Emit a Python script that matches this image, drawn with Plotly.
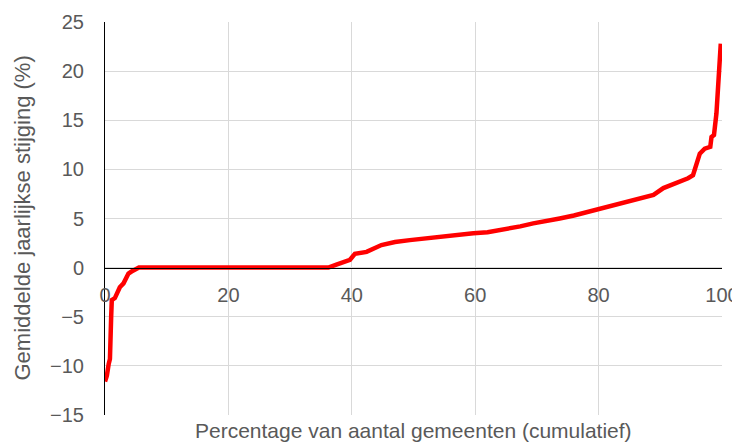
import plotly.graph_objects as go

# cumulative percentage of municipalities (x) and average yearly increase in % (y)
pct_gemeenten = [0, 0.3, 0.6, 0.8, 1.0, 1.1, 1.6, 2.0, 2.4, 3.0, 3.4, 3.8, 4.3, 5.0, 5.5,
                 10, 20, 30, 36.2, 37.5, 39.0, 39.7, 40.5, 42.4, 44.8, 47.0, 49.4, 52.0,
                 55.9, 59.7, 62.0, 64.0, 67.3, 69.4, 71.5, 73.7, 76.0, 78.6, 81.8, 85.1,
                 88.9, 90.5, 92.7, 94.5, 95.3, 95.9, 96.4, 97.2, 98.1, 98.3, 98.7, 99.1,
                 99.5, 99.8]
stijging = [-11.6, -11.0, -9.8, -9.3, -5.0, -3.3, -3.1, -2.5, -2.0, -1.6, -1.2, -0.6, -0.4,
            -0.2, 0.0, 0.0, 0.0, 0.0, 0.0, 0.3, 0.6, 0.8, 1.4, 1.6, 2.3, 2.6, 2.8, 3.0,
            3.2, 3.5, 3.6, 3.8, 4.2, 4.5, 4.7, 5.0, 5.3, 5.7, 6.2, 6.8,
            7.4, 8.1, 8.6, 9.1, 9.4, 10.6, 11.6, 12.1, 12.3, 13.3, 13.5, 15.7,
            19.1, 22.8]

x_ticks = [0, 20, 40, 60, 80, 100]
y_ticks = [-15, -10, -5, 0, 5, 10, 15, 20, 25]

FONT = "Liberation Sans, Arial, sans-serif"
GRAY = "#595959"

fig = go.Figure()
fig.add_trace(go.Scatter(x=pct_gemeenten, y=stijging, mode="lines",
                         line=dict(color="#ff0000", width=4.5), showlegend=False))

# page body has an 8px default margin; figure is sized to compensate
fig.update_layout(
    width=732, height=435,
    margin=dict(l=97, r=18, t=14, b=28),
    paper_bgcolor="white", plot_bgcolor="white",
    font=dict(family=FONT, size=20, color=GRAY),
    xaxis=dict(range=[0, 100], tickvals=x_ticks, showgrid=True, gridcolor="#d9d9d9",
               gridwidth=1, zeroline=False, showline=True, linecolor="black", linewidth=1,
               anchor="free", position=0.375, ticks="outside", ticklen=9,
               tickcolor="rgba(0,0,0,0)", tickfont=dict(size=20, color=GRAY),
               automargin=False),
    yaxis=dict(range=[-15, 25], tickvals=y_ticks, showgrid=True, gridcolor="#d9d9d9",
               gridwidth=1, zeroline=False, showline=True, linecolor="black", linewidth=1,
               ticks="outside", ticklen=16, tickcolor="rgba(0,0,0,0)",
               tickfont=dict(size=20, color=GRAY), automargin=False),
    annotations=[
        dict(text="Percentage van aantal gemeenten (cumulatief)", xref="paper",
             yref="paper", x=0.5, y=0, yshift=-15, showarrow=False,
             yanchor="middle", font=dict(size=21, color=GRAY)),
        dict(text="Gemiddelde jaarlijkse stijging (%)", xref="paper", yref="paper",
             x=0, y=0.5, xshift=-83, textangle=-90, showarrow=False,
             xanchor="center", yanchor="middle", font=dict(size=22, color=GRAY)),
    ],
)
fig.write_html("out.html")
